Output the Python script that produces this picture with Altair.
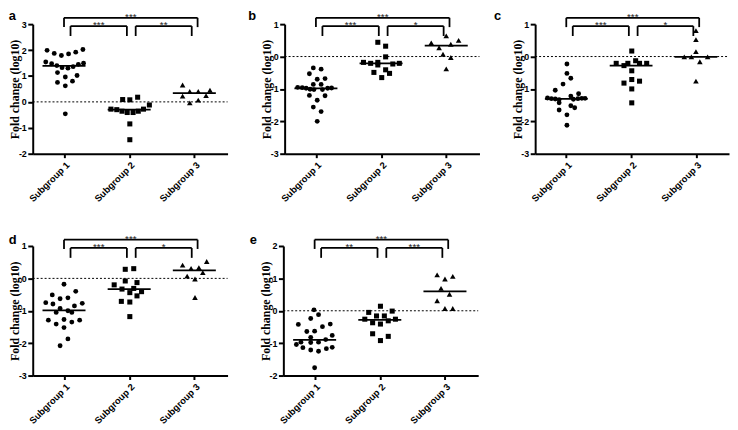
import altair as alt
import pandas as pd

# ---------------- data ----------------
CATEGORIES = ["Subgroup 1", "Subgroup 2", "Subgroup 3"]
Y_TITLE = "Fold change (log10)"
PANELS = ["a", "b", "c", "d", "e"]
Y_DOMAINS = {"a": [-2, 3], "b": [-3, 1], "c": [-3, 1], "d": [-3, 1], "e": [-2, 2]}
# significance labels: outer (1 vs 3), left inner (1 vs 2), right inner (2 vs 3)
STARS = {
    "a": ["***", "***", "**"],
    "b": ["***", "***", "*"],
    "c": ["***", "***", "*"],
    "d": ["***", "***", "*"],
    "e": ["***", "**", "***"],
}

# panel a
A1_V = [1.99, 1.87, 1.79, 1.85, 1.92, 2.02, 1.54, 1.47, 1.40, 1.32, 1.30, 1.36, 1.45, 1.49,
        1.13, 0.96, 1.02, 0.75, 0.62, 0.80, -0.46]
A1_DX = [-0.26, -0.15, -0.04, 0.07, 0.18, 0.29, -0.28, -0.19, -0.11, -0.03, 0.06, 0.14, 0.22, 0.30,
         -0.10, 0.02, 0.20, -0.10, 0.02, 0.13, 0.02]
A2_V = [0.09, 0.08, 0.18, -0.12, -0.28, -0.30, -0.36, -0.41, -0.41, -0.36, -0.28, -0.85, -1.46]
A2_DX = [-0.10, 0.01, 0.13, 0.31, -0.28, -0.19, -0.11, -0.03, 0.06, 0.14, 0.22, 0.01, 0.01]
A3_V = [0.65, 0.40, 0.40, 0.45, 0.22, 0.24, -0.04, 0.07]
A3_DX = [-0.18, -0.07, 0.06, 0.24, -0.18, 0.18, -0.07, 0.06]

# panel b
B1_V = [-0.35, -0.39, -0.53, -0.68, -0.70, -0.86, -0.86, -0.95, -0.96, -0.98, -1.01, -1.02,
        -1.02, -0.98, -0.97, -1.20, -1.21, -1.35, -1.56, -1.70, -2.00]
B1_DX = [-0.04, 0.08, -0.10, 0.14, 0.02, -0.04, 0.08, -0.28, -0.21, -0.15, -0.09, -0.03,
         0.10, 0.18, 0.24, -0.10, 0.14, 0.02, -0.04, 0.08, 0.02]
B2_V = [0.44, 0.32, -0.01, -0.18, -0.21, -0.18, -0.26, -0.23, -0.21, -0.49, -0.41, -0.52, -0.65]
B2_DX = [-0.05, 0.07, 0.07, -0.27, -0.16, -0.05, -0.05, 0.18, 0.28, -0.11, 0.07, 0.13, 0.01]
B3_V = [0.64, 0.50, 0.42, 0.27, 0.38, 0.07, -0.03, -0.38]
B3_DX = [0.00, 0.19, -0.23, -0.11, 0.07, -0.05, 0.07, 0.00]

# panel c
C1_V = [-0.23, -0.52, -0.67, -0.85, -1.04, -1.15, -1.22, -1.28, -1.30, -1.31, -1.33, -1.32,
        -1.30, -1.29, -1.29, -1.43, -1.52, -1.58, -1.65, -1.80, -2.12]
C1_DX = [0.01, 0.01, 0.07, -0.05, -0.17, 0.19, 0.07, -0.29, -0.23, -0.17, -0.11, 0.11,
         0.18, 0.24, 0.29, -0.11, 0.07, 0.13, -0.11, 0.01, 0.01]
C2_V = [0.17, -0.13, -0.21, -0.28, -0.21, -0.21, -0.21, -0.44, -0.82, -0.76, -0.71, -1.00, -1.43]
C2_DX = [0.01, 0.07, -0.23, -0.11, -0.05, 0.13, 0.24, 0.01, -0.11, 0.13, 0.01, 0.01, 0.01]
C3_V = [0.80, 0.52, 0.15, -0.01, -0.01, -0.01, -0.16, -0.76]
C3_DX = [0.00, 0.00, 0.00, -0.18, -0.07, 0.18, 0.06, 0.00]

# panel d
D1_V = [-0.18, -0.40, -0.51, -0.60, -0.63, -0.75, -0.79, -0.77, -0.85, -0.93, -1.00, -1.05,
        -1.05, -1.29, -1.41, -1.27, -1.35, -1.29, -1.52, -1.87, -2.08]
D1_DX = [0.00, 0.18, -0.18, 0.06, -0.06, -0.28, -0.17, 0.28, 0.16, -0.06, 0.06, -0.12,
         0.12, -0.24, -0.12, 0.00, 0.12, 0.24, 0.00, 0.06, -0.06]
D2_V = [0.28, 0.30, -0.08, -0.13, -0.20, -0.33, -0.31, -0.44, -0.41, -0.54, -0.71, -0.73, -1.18]
D2_DX = [-0.06, 0.07, -0.06, 0.12, -0.23, -0.11, 0.07, 0.01, 0.19, 0.12, -0.12, 0.01, 0.01]
D3_V = [0.41, 0.31, 0.33, 0.52, 0.18, 0.07, -0.02, -0.59]
D3_DX = [-0.18, -0.05, 0.07, 0.19, 0.13, -0.11, 0.01, 0.01]

# panel e
E1_V = [0.03, -0.12, -0.24, -0.42, -0.41, -0.49, -0.64, -0.63, -0.76, -0.82, -0.89, -0.97,
        -0.98, -0.97, -1.04, -1.14, -1.21, -1.25, -1.17, -1.13, -1.76]
E1_DX = [-0.01, 0.06, -0.06, -0.25, 0.24, 0.12, -0.12, 0.00, 0.27, -0.06, 0.17, -0.21,
         -0.06, 0.06, -0.28, -0.18, -0.06, 0.06, 0.18, 0.27, 0.00]
E2_V = [0.14, -0.05, -0.01, -0.16, -0.16, -0.26, -0.37, -0.41, -0.31, -0.26, -0.71, -0.79, -0.92]
E2_DX = [0.01, -0.17, 0.19, -0.05, 0.07, -0.23, -0.11, 0.01, 0.13, 0.24, -0.11, 0.13, 0.01]
E3_V = [1.11, 0.98, 1.06, 0.69, 0.51, 0.31, 0.07, 0.07]
E3_DX = [-0.12, 0.00, 0.12, -0.06, 0.07, -0.12, 0.00, 0.12]

VALUES = {
    "a": [(A1_V, A1_DX), (A2_V, A2_DX), (A3_V, A3_DX)],
    "b": [(B1_V, B1_DX), (B2_V, B2_DX), (B3_V, B3_DX)],
    "c": [(C1_V, C1_DX), (C2_V, C2_DX), (C3_V, C3_DX)],
    "d": [(D1_V, D1_DX), (D2_V, D2_DX), (D3_V, D3_DX)],
    "e": [(E1_V, E1_DX), (E2_V, E2_DX), (E3_V, E3_DX)],
}
MEDIANS = {
    "a": [1.39, -0.30, 0.34],
    "b": [-0.98, -0.21, 0.34],
    "c": [-1.31, -0.28, -0.01],
    "d": [-0.99, -0.33, 0.25],
    "e": [-0.90, -0.28, 0.60],
}

# ---------------- styling / layout constants ----------------
SHAPES = ["circle", "square", "triangle-up"]
SIZES = [24, 26, 32]
H = 131
WIDTHS = {"a": 197, "b": 197, "c": 196, "d": 197, "e": 197}
LETTER_X = {"a": -24.3, "b": -36.7, "c": -41.7, "d": -24.3, "e": -34.0}
LETTER_Y = {"a": -3.7, "b": -3.7, "c": -3.7, "d": -1.7, "e": -1.7}
MED_HALF = 0.33
OUT_Y, OUT_Y2 = -6.4, 3.0
IN_Y, IN_Y2 = 2.0, 12.0
STAR_DY = 2.4
X_DOMAIN = [0.52, 3.51]
BLACK = "#000000"
SANS = "Liberation Sans"
SERIF = "Liberation Serif"
XLABEL_SIZE = 9.5


def make_panel(key):
    W = WIDTHS[key]
    lo, hi = Y_DOMAINS[key]
    xs = alt.Scale(domain=X_DOMAIN, nice=False, zero=False)
    ys = alt.Scale(domain=[lo, hi], nice=False, zero=False)
    label_list = "[" + ",".join("'%s'" % c for c in CATEGORIES) + "]"
    xaxis = alt.Axis(values=[1, 2, 3], labelExpr=label_list + "[datum.value - 1]",
                     labelAngle=315, labelAlign="right", labelBaseline="top",
                     title=None, tickSize=4, labelPadding=2, labelFontSize=XLABEL_SIZE)
    yaxis = alt.Axis(values=list(range(lo, hi + 1)), labelExpr="'' + datum.value",
                     tickSize=5, labelPadding=1.5, labelFontSize=9,
                     title=Y_TITLE, titleFont=SERIF, titleFontSize=12, titleFontWeight="bold",
                     titleAngle=270, titleX=-14, titleY=H / 2, titleAlign="center",
                     titleBaseline="alphabetic")

    layers = []
    # zero reference line
    zdf = pd.DataFrame({"z": [0]})
    layers.append(alt.Chart(zdf).mark_rule(color=BLACK, strokeWidth=1, strokeDash=[2, 2]).encode(
        y=alt.Y("z:Q", scale=ys, axis=yaxis), x=alt.value(0), x2=alt.value(W)))

    # points
    for gi in range(3):
        vals, dxs = VALUES[key][gi]
        df = pd.DataFrame({"x": [gi + 1 + d for d in dxs], "v": vals})
        layers.append(alt.Chart(df).mark_point(shape=SHAPES[gi], size=SIZES[gi], filled=True,
                                               color=BLACK, opacity=1, strokeWidth=0).encode(
            x=alt.X("x:Q", scale=xs, axis=xaxis), y=alt.Y("v:Q", scale=ys, axis=yaxis)))

    # median lines
    mdf = pd.DataFrame({"xs": [i + 1 - MED_HALF for i in range(3)],
                        "xe": [i + 1 + MED_HALF for i in range(3)],
                        "m": MEDIANS[key]})
    layers.append(alt.Chart(mdf).mark_rule(color=BLACK, strokeWidth=1.8).encode(
        x=alt.X("xs:Q", scale=xs, axis=xaxis), x2="xe:Q", y=alt.Y("m:Q", scale=ys, axis=yaxis)))

    # brackets
    brackets = [(1.0, 3.05, OUT_Y, OUT_Y2, STARS[key][0]),
                (1.10, 1.965, IN_Y, IN_Y2, STARS[key][1]),
                (2.10, 2.96, IN_Y, IN_Y2, STARS[key][2])]
    for (b1, b2, yt, yb, lab) in brackets:
        hdf = pd.DataFrame({"x1": [b1], "x2": [b2], "s": [lab], "xm": [(b1 + b2) / 2]})
        layers.append(alt.Chart(hdf).mark_rule(color=BLACK, strokeWidth=1.8).encode(
            x=alt.X("x1:Q", scale=xs, axis=xaxis), x2="x2:Q", y=alt.value(yt)))
        vdf = pd.DataFrame({"x": [b1, b2]})
        layers.append(alt.Chart(vdf).mark_rule(color=BLACK, strokeWidth=1.8).encode(
            x=alt.X("x:Q", scale=xs, axis=xaxis), y=alt.value(yt), y2=alt.value(yb)))
        layers.append(alt.Chart(hdf).mark_text(font=SANS, fontSize=10, color="#222222",
                                               baseline="alphabetic", align="center").encode(
            x=alt.X("xm:Q", scale=xs, axis=xaxis), y=alt.value(yt + STAR_DY), text="s:N"))

    # panel letter
    ldf = pd.DataFrame({"t": [key]})
    layers.append(alt.Chart(ldf).mark_text(font=SANS, fontSize=13, fontWeight="bold", color=BLACK,
                                           align="left", baseline="alphabetic").encode(
        x=alt.value(LETTER_X[key]), y=alt.value(LETTER_Y[key]), text="t:N"))

    return alt.layer(*layers).properties(width=W, height=H)


pa, pb, pc, pd_, pe = [make_panel(k) for k in PANELS]
top = alt.hconcat(pa, alt.hconcat(pb, pc, spacing=13.3), spacing=19.7)
bottom = alt.hconcat(pd_, pe, spacing=21.4)
chart = alt.vconcat(top, bottom, spacing=30.3).properties(
    padding={"left": 0, "top": 0, "right": 0, "bottom": 0}
).configure_view(stroke=None).configure_axis(
    domainColor=BLACK, domainWidth=2, tickColor=BLACK, tickWidth=2, labelColor=BLACK,
    labelFont=SANS, labelFontWeight="bold", grid=False, titleColor=BLACK
).configure_concat(spacing=10)

chart.save("out.html", embed_options={"renderer": "svg", "actions": False})
